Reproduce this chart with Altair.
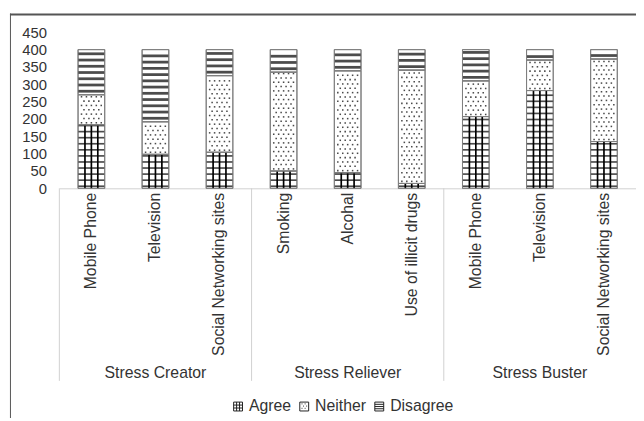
import altair as alt
import pandas as pd

# ---- data ----
groups = ["Stress Creator", "Stress Creator", "Stress Creator",
          "Stress Reliever", "Stress Reliever", "Stress Reliever",
          "Stress Buster", "Stress Buster", "Stress Buster"]
items = ["Mobile Phone", "Television", "Social Networking sites",
         "Smoking", "Alcohal", "Use of illicit drugs",
         "Mobile Phone", "Television", "Social Networking sites"]
agree = [183, 98, 104, 50, 45, 14, 207, 282, 135]
neither = [87, 94, 221, 285, 294, 327, 103, 88, 238]
disagree = [130, 208, 75, 65, 61, 59, 90, 30, 27]
responses = ["Agree", "Neither", "Disagree"]
y_ticks = [0, 50, 100, 150, 200, 250, 300, 350, 400, 450]

FONT = "Liberation Sans"
TXT = "#333333"

rows = []
for g, it, a, n, d in zip(groups, items, agree, neither, disagree):
    key = g + "|" + it
    base = 0
    for r, v in zip(responses, (a, n, d)):
        rows.append(dict(key=key, group=g, item=it, resp=r, value=v, y0=base, y1=base + v))
        base += v
df = pd.DataFrame(rows)
keys = list(dict.fromkeys(df["key"]))

group_names = list(dict.fromkeys(groups))
first_keys = [keys[groups.index(g)] for g in group_names]
mid_keys = [keys[groups.index(g) + 1] for g in group_names]
sep_df = pd.DataFrame({"key": first_keys})
grp_df = pd.DataFrame({"key": mid_keys, "group": group_names})

xscale = alt.Scale(domain=keys, paddingInner=0, paddingOuter=0)
yscale = alt.Scale(domain=[0, 450])
BW = 27

XAXIS = alt.Axis(labelExpr="split(datum.label, '|')[1]", labelAngle=-90,
                 labelFontSize=16, labelFont=FONT, labelColor=TXT, ticks=False,
                 domainColor="#d0d0d0", labelPadding=4, labelLimit=0)
YAXIS = alt.Axis(values=y_ticks, domain=False, ticks=False, grid=False,
                 labelOverlap=False, labelFontSize=15, labelFont=FONT,
                 labelColor=TXT, labelPadding=13)


def X(**kw):
    return alt.X("key:N", sort=keys, scale=xscale, title=None, axis=XAXIS, **kw)


def Y(field):
    return alt.Y(field, scale=yscale, title=None, axis=YAXIS)


base = alt.Chart(df)

bars = base.mark_bar(size=BW, fill="white", stroke="#7f7f7f", strokeWidth=1).encode(
    x=X(), y=Y("y0:Q"), y2="y1:Q")

# Disagree: horizontal stripes
stripes = base.transform_filter(alt.datum.resp == "Disagree").transform_calculate(
    lv="sequence(datum.y0 + 10, datum.y1 - 2, 18)"
).transform_flatten(["lv"]).mark_tick(size=BW, thickness=2.8, color="black").encode(
    x=X(), y=Y("lv:Q"))

# Agree: grid (horizontal + vertical lines)
grid_h = base.transform_filter(alt.datum.resp == "Agree").transform_calculate(
    lv="sequence(datum.y0 + 6, datum.y1 - 1, 17.5)"
).transform_flatten(["lv"]).mark_tick(size=BW, thickness=1.7, color="black").encode(
    x=X(), y=Y("lv:Q"))

grid_v = [
    base.transform_filter(alt.datum.resp == "Agree").mark_rule(
        color="black", strokeWidth=1.7, xOffset=off).encode(
        x=X(), y=Y("y0:Q"), y2="y1:Q")
    for off in (-6.5, 0, 6.5)
]

# Neither: staggered dots
dots_base = base.transform_filter(alt.datum.resp == "Neither").transform_calculate(
    lv="sequence(datum.y0 + 6, datum.y1 - 3, 12.5)"
).transform_flatten(["lv"]).transform_calculate(
    par="round((datum.lv - datum.y0 - 6) / 12.5) % 2")
dots = []
for p, offs in ((0, (-10, -5, 0, 5, 10)), (1, (-7.5, -2.5, 2.5, 7.5))):
    for off in offs:
        dots.append(dots_base.transform_filter(alt.datum.par == p).mark_square(
            size=2.4, color="#4a4a4a", opacity=1, xOffset=off).encode(
            x=X(), y=Y("lv:Q")))

outline = base.mark_bar(size=BW, fillOpacity=0, stroke="#7f7f7f", strokeWidth=1).encode(
    x=X(), y=Y("y0:Q"), y2="y1:Q")

# group separators and group labels
seps = alt.Chart(sep_df).mark_rule(color="#d0d0d0", strokeWidth=1).encode(
    x=X(bandPosition=0), y=alt.value(158), y2=alt.value(353))
grp_text = alt.Chart(grp_df).mark_text(fontSize=16, font=FONT, color=TXT, baseline="middle").encode(
    x=X(), y=alt.value(345), text="group:N")

# legend with patterned symbols
p_grid = "M-1,-1H1V1H-1Z M-0.33,-1V1 M0.33,-1V1 M-1,-0.33H1 M-1,0.33H1"
p_dots = ("M-1,-1H1V1H-1Z M-0.6,-0.6h0.2 M0.1,-0.6h0.2 M-0.25,-0.1h0.2 M0.45,-0.1h0.2 "
          "M-0.6,0.4h0.2 M0.1,0.4h0.2")
p_str = "M-1,-1H1V1H-1Z M-1,-0.5H1 M-1,0H1 M-1,0.5H1"
legend_layer = base.mark_point(size=0, filled=False, color="black", strokeWidth=1).encode(
    x=X(), y=Y("y1:Q"),
    shape=alt.Shape("resp:N", scale=alt.Scale(domain=responses, range=[p_grid, p_dots, p_str]),
                    legend=alt.Legend(title=None, orient="none", direction="horizontal",
                                      legendX=173, legendY=371, symbolSize=81,
                                      symbolStrokeColor="#222", symbolStrokeWidth=1,
                                      symbolOpacity=1, labelFontSize=16, labelFont=FONT,
                                      labelColor=TXT, labelOffset=3, columnPadding=5,
                                      padding=0)))

frame_data = alt.Data(values=[{"a": 1}])
frame_top = alt.Chart(frame_data).mark_rule(color="#555555", strokeWidth=2).encode(
    x=alt.value(-50), x2=alt.value(800), y=alt.value(-18))
frame_left = alt.Chart(frame_data).mark_rule(color="#555555", strokeWidth=1).encode(
    x=alt.value(-49.5), y=alt.value(-19), y2=alt.value(600))

chart = alt.layer(
    seps, bars, *grid_v, grid_h, *dots, stripes, outline,
    grp_text, legend_layer, frame_top, frame_left
).properties(
    width=584, height=158,
    padding={"left": 52, "top": 22, "right": 0, "bottom": 230},
    autosize=alt.AutoSizeParams(type="none"),
).configure_view(stroke="transparent")

chart.save("out.html", embed_options={"renderer": "svg", "actions": False})
